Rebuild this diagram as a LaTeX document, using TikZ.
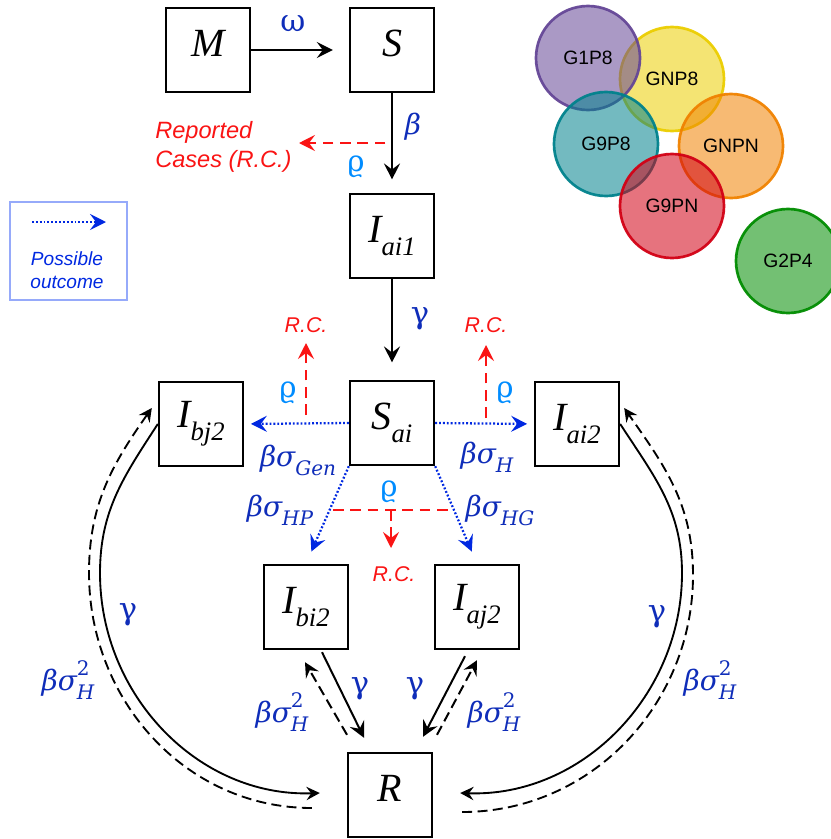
\documentclass[tikz,border=0pt]{standalone}
\usepackage{fontspec}
\setmainfont{Liberation Serif}
\newfontfamily\sansf{Liberation Sans}
\newfontfamily\grk{DejaVu Serif}
\usetikzlibrary{arrows.meta,calc}

\definecolor{lblue}{RGB}{15,45,185}
\definecolor{rhoblue}{RGB}{0,140,255}
\definecolor{dotblue}{RGB}{0,40,225}
\definecolor{rcred}{RGB}{250,20,20}
\definecolor{legframe}{RGB}{150,170,250}
\definecolor{cpurple}{RGB}{100,70,150}
\definecolor{cyellow}{RGB}{235,205,0}
\definecolor{cteal}{RGB}{0,130,140}
\definecolor{corange}{RGB}{240,130,0}
\definecolor{cred}{RGB}{210,0,20}
\definecolor{cgreen}{RGB}{0,140,0}

% compartment label: italic letter with a lowered italic index
\newcommand\cmp[2]{\itshape #1\raisebox{-0.33em}{\fontsize{20}{20}\selectfont #2}}
% rate labels: lowered index, raised exponent stacked over it
\newcommand\gsub[1]{\raisebox{-0.32em}{\fontsize{15}{15}\selectfont\itshape #1}}
\newcommand\gsup[1]{\rlap{\raisebox{0.55em}{\fontsize{15}{15}\selectfont\upshape #1}}}

\tikzset{
  box/.style={draw, line width=1.8pt, minimum size=63pt, inner sep=0pt,
              font=\fontsize{30}{30}\selectfont},
  flow/.style={line width=1.5pt, -{Stealth[length=12pt,width=12pt,inset=4.5pt]}},
  backflow/.style={line width=1.5pt, dash pattern=on 7.5pt off 4pt,
              -{Stealth[length=11pt,width=11pt,inset=4pt]}},
  arcflow/.style={line width=1.4pt, -{Stealth[length=10pt,width=10pt,inset=3.5pt]}},
  outcome/.style={line width=1.7pt, dotblue, dash pattern=on 1.4pt off 1.5pt,
              -{Stealth[length=12pt,width=12pt,inset=4.5pt]}},
  report/.style={line width=1.5pt, rcred, dash pattern=on 8pt off 5pt,
              -{Stealth[length=12pt,width=12pt,inset=4.5pt]}},
  reportline/.style={line width=1.5pt, rcred, dash pattern=on 8pt off 5pt},
  gl/.style={text=lblue, inner sep=0pt, font=\grk\itshape\fontsize{21}{24}\selectfont},
  gu/.style={text=lblue, inner sep=0pt, font=\grk\fontsize{23}{24}\selectfont},
  rl/.style={text=rhoblue, inner sep=0pt, font=\grk\fontsize{22}{24}\selectfont},
  rc/.style={text=rcred, inner sep=0pt, font=\sansf\itshape\fontsize{16}{16}\selectfont},
  gc/.style={circle, minimum size=78pt, inner sep=0pt, line width=2pt,
             draw=#1, fill=#1, fill opacity=0.55, draw opacity=0.95, text opacity=1,
             font=\sansf\fontsize{14.5}{14.5}\selectfont},
}

\begin{document}
\begin{tikzpicture}[x=0.75pt,y=0.75pt]
\useasboundingbox (0,0) rectangle (831,-839);

% genotype circles
\node[gc=cyellow] (gnp8) at (672,-79) {GNP8};
\node[gc=cpurple] (g1p8) at (588,-58) {G1P8};
\node[gc=corange] (gnpn) at (731,-146) {GNPN};
\node[gc=cteal]   (g9p8) at (606,-144) {G9P8};
\node[gc=cred]    (g9pn) at (672,-206) {G9PN};
\node[gc=cgreen]  (g2p4) at (788,-261) {G2P4};

% compartments
\node[box] (M)    at (208,-50)  {\cmp{M}{}};
\node[box] (S)    at (392,-50)  {\cmp{S}{}};
\node[box] (Iai1) at (392,-236) {\cmp{I}{ai1}};
\node[box] (Sai)  at (392,-423) {\cmp{S}{ai}};
\node[box] (Ibj2) at (201,-424) {\cmp{I}{bj2}};
\node[box] (Iai2) at (577,-424) {\cmp{I}{ai2}};
\node[box] (Ibi2) at (306,-607) {\cmp{I}{bi2}};
\node[box] (Iaj2) at (477,-607) {\cmp{I}{aj2}};
\node[box] (R)    at (390,-795) {\cmp{R}{}};

% main chain
\draw[flow, shorten >=12pt] (M.east) -- (S.west);
\draw[flow, shorten >=10pt] (S.south) -- (Iai1.north);
\draw[flow, shorten >=13pt] (Iai1.south) -- (Sai.north);
\node[gu] (om) at (293,-24) {ω};
\node[gl] (be) at (413,-127) {β};
\node[gu] (ga) at (420,-319) {γ};

% reported cases from the first infection
\coordinate (rcA) at ($(S.south)!0.5!(Iai1.north)$);
\coordinate (rcAend) at (299,-143);
\draw[report, shorten <=5pt] (rcA) -- (rcAend);
\node[rl] (rhoA) at (356,-167) {ϱ};
\node[rc, anchor=west, align=left, font=\sansf\itshape\fontsize{17.7}{22}\selectfont]
  (rep) at (155,-147) {Reported\\Cases (R.C.)};

% legend
\node[draw=legframe, line width=0.8pt, minimum width=87.75pt, minimum height=73.5pt,
      inner sep=0pt] (leg) at (68.5,-251) {};
\coordinate (legA) at (32,-222);
\coordinate (legB) at (106,-222);
\draw[outcome] (legA) -- (legB);
\node[text=dotblue, align=center, inner sep=0pt,
      font=\sansf\itshape\fontsize{14.3}{17.3}\selectfont] (legtxt) at (67,-270)
  {Possible\\outcome};

% secondary infections
\draw[outcome, shorten >=5pt] (Sai.west) -- (Ibj2.east);
\draw[outcome, shorten >=5pt] (Sai.east) -- (Iai2.west);
\draw[outcome, shorten >=10pt] (Sai.south west) -- (Ibi2.north);
\draw[outcome, shorten >=10pt] (Sai.south east) -- (Iaj2.north);
\node[gl] (sGen) at (298,-460) {βσ\gsub{Gen}};
\node[gl] (sH)   at (487,-457) {βσ\gsub{H}};
\node[gl] (sHP)  at (280,-510) {βσ\gsub{HP}};
\node[gl] (sHG)  at (500,-510) {βσ\gsub{HG}};

% reported cases from the secondary infections
\node[rc] (rcL) at (306,-325) {R.C.};
\node[rc] (rcR) at (486,-325) {R.C.};
\node[rc] (rcM) at (394,-574) {R.C.};
\coordinate (rcLfoot) at (306,-415);
\coordinate (rcLtip)  at (306,-343);
\coordinate (rcRfoot) at (486,-418);
\coordinate (rcRtip)  at (486,-345);
\draw[report] (rcLfoot) -- (rcLtip);
\draw[report] (rcRfoot) -- (rcRtip);
\node[rl] (rhoL) at (288,-393) {ϱ};
\node[rl] (rhoR) at (505,-393) {ϱ};
\coordinate (rcMl) at (333,-510);
\coordinate (rcMr) at (448,-510);
\coordinate (rcMc) at (391,-510);
\coordinate (rcMtip) at (391,-548);
\draw[reportline] (rcMl) -- (rcMr);
\draw[report] (rcMc) -- (rcMtip);
\node[rl] (rhoM) at (389,-492) {ϱ};

% recovery and reinfection between I_bi2 / I_aj2 and R
\draw[flow] ($(Ibi2.south)+(16,-2)$) -- ($(R.north)+(-26,14)$);
\draw[backflow] ($(R.north)+(-43,17)$) -- ($(Ibi2.south)+(-1,-12)$);
\draw[flow] ($(Iaj2.south)+(-12,-6)$) -- ($(R.north)+(33,15)$);
\draw[backflow] ($(R.north)+(47,17)$) -- ($(Iaj2.south)+(0,-10)$);
\node[gu] (gBL) at (360,-689) {γ};
\node[gu] (gBR) at (415,-689) {γ};
\node[gl] (hBL) at (282,-712) {βσ\gsup{2}\gsub{H}};
\node[gl] (hBR) at (494,-712) {βσ\gsup{2}\gsub{H}};

% recovery and reinfection between I_bj2 / I_ai2 and R
\coordinate (lsw) at (100,-573);
\coordinate (ldw) at (89,-573);
\coordinate (rsw) at (682,-573);
\coordinate (rdw) at (693,-575);
\draw[arcflow] (Ibj2.west) to[out=237,in=90] (lsw)
  to[out=270,in=182] ($(R.west)+(-27,2)$);
\draw[arcflow, dash pattern=on 7.5pt off 4pt] ($(R.west)+(-35,-13)$)
  to[out=180,in=270] (ldw) to[out=90,in=235] ($(Ibj2.west)+(-6,16)$);
\draw[arcflow] (Iai2.east) to[out=-57,in=90] (rsw)
  to[out=270,in=-2] ($(R.east)+(27,2)$);
\draw[arcflow, dash pattern=on 7.5pt off 4pt] ($(R.east)+(29,-17)$)
  to[out=0,in=270] (rdw) to[out=90,in=-55] ($(Iai2.east)+(4,16)$);
\node[gu] (gL) at (128,-615) {γ};
\node[gu] (gR) at (657,-617) {γ};
\node[gl] (hL) at (68,-680) {βσ\gsup{2}\gsub{H}};
\node[gl] (hR) at (710,-680) {βσ\gsup{2}\gsub{H}};
\end{tikzpicture}
\end{document}
